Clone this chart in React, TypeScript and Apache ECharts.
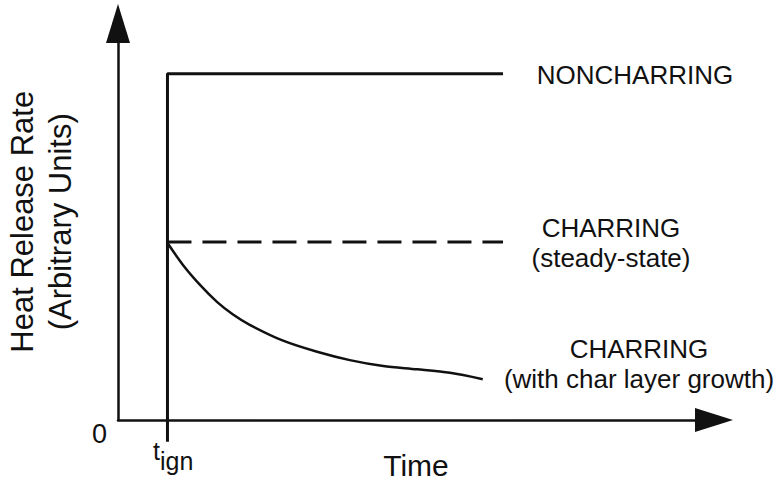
import React, { useEffect, useRef } from 'react';
import * as echarts from 'echarts';

const FONT = '"Liberation Sans", Arial, Helvetica, sans-serif';
const INK = '#111111';

// Data (arbitrary units)
const tIgn = 8.3;
const endTime = 64.6;
const belowAxis = -5.5;
const nonCharringLevel = 87.3;
const steadyLevel = 44.9;

const nonCharringTimes = [tIgn, tIgn, endTime];
const nonCharringValues = [belowAxis, nonCharringLevel, nonCharringLevel];

const steadyTimes = [tIgn, endTime];
const steadyValues = [steadyLevel, steadyLevel];

const growthTimes = [8.2, 10.9, 13.8, 16.6, 19.3, 22.1, 27.7, 33.4, 38.9, 44.5, 50.2, 55.7, 61.2];
const growthValues = [44.9, 39.1, 34.0, 29.8, 26.6, 24.0, 20.0, 17.2, 15.1, 13.6, 12.8, 11.9, 10.3];

const yTickLabels = ['0'];
const xAxisName = 'Time';
const yAxisName = 'Heat Release Rate\n(Arbitrary Units)';
const labelNonCharring = 'NONCHARRING';
const labelSteady = 'CHARRING\n(steady-state)';
const labelGrowth = 'CHARRING\n(with char layer growth)';

const zip = (xs: number[], ys: number[]) => xs.map((x, i) => [x, ys[i]]);

export default function App() {
  const ref = useRef<HTMLDivElement>(null);

  useEffect(() => {
    if (!ref.current) return;
    const chart = echarts.init(ref.current, null, { renderer: 'svg' });
    const textStyle = (text: string, x: number, y: number) => ({
      type: 'text',
      x,
      y,
      style: {
        text,
        fill: INK,
        fontFamily: FONT,
        fontSize: 26,
        align: 'center',
        verticalAlign: 'top',
        lineHeight: 30,
      },
    });
    chart.setOption({
      animation: false,
      backgroundColor: '#ffffff',
      grid: {
        left: 118,
        right: 66,
        top: 23.5,
        bottom: 60,
        containLabel: false,
        outerBoundsMode: 'none',
      },
      xAxis: {
        type: 'value',
        min: 0,
        max: 100,
        interval: 100,
        name: xAxisName,
        nameLocation: 'middle',
        nameGap: 30,
        nameTextStyle: { fontFamily: FONT, fontSize: 30, color: INK },
        axisLine: {
          show: true,
          onZero: false,
          symbol: ['none', 'triangle'],
          symbolSize: [24, 38],
          lineStyle: { color: INK, width: 2.5 },
        },
        axisTick: { show: false },
        axisLabel: { show: false },
        splitLine: { show: false },
      },
      yAxis: {
        type: 'value',
        min: 0,
        max: 100,
        interval: 100,
        name: yAxisName,
        nameLocation: 'middle',
        nameRotate: 90,
        nameGap: 39,
        nameTextStyle: { fontFamily: FONT, fontSize: 31, color: INK, lineHeight: 38, align: 'center' },
        axisLine: {
          show: true,
          symbol: ['none', 'triangle'],
          symbolSize: [24, 39],
          lineStyle: { color: INK, width: 2.5 },
        },
        axisTick: { show: false },
        axisLabel: {
          show: true,
          margin: 11,
          fontFamily: FONT,
          fontSize: 27,
          color: INK,
          verticalAlign: 'top',
          formatter: (v: number) => (v === 0 ? yTickLabels[0] : ''),
        },
        splitLine: { show: false },
      },
      series: [
        {
          type: 'line',
          name: labelNonCharring,
          data: zip(nonCharringTimes, nonCharringValues),
          showSymbol: false,
          symbol: 'none',
          clip: false,
          lineStyle: { color: INK, width: 3 },
        },
        {
          type: 'line',
          name: 'CHARRING (steady-state)',
          data: zip(steadyTimes, steadyValues),
          showSymbol: false,
          symbol: 'none',
          clip: false,
          lineStyle: { color: INK, width: 3, type: [24, 11] },
        },
        {
          type: 'line',
          name: 'CHARRING (with char layer growth)',
          data: zip(growthTimes, growthValues),
          smooth: 0.3,
          showSymbol: false,
          symbol: 'none',
          clip: false,
          lineStyle: { color: INK, width: 2.5 },
        },
      ],
      graphic: [
        textStyle(labelNonCharring, 635, 60),
        textStyle(labelSteady, 611, 213),
        textStyle(labelGrowth, 639, 334),
        {
          type: 'text',
          x: 153,
          y: 451,
          style: { text: 't', fill: INK, fontFamily: FONT, fontSize: 25, align: 'left', verticalAlign: 'middle' },
        },
        {
          type: 'text',
          x: 160,
          y: 461,
          style: { text: 'ign', fill: INK, fontFamily: FONT, fontSize: 25, align: 'left', verticalAlign: 'middle' },
        },
      ],
    });
    return () => chart.dispose();
  }, []);

  return (
    <div
      ref={ref}
      style={{ position: 'absolute', left: 0, top: 0, width: 780, height: 480, background: '#fff' }}
    />
  );
}
